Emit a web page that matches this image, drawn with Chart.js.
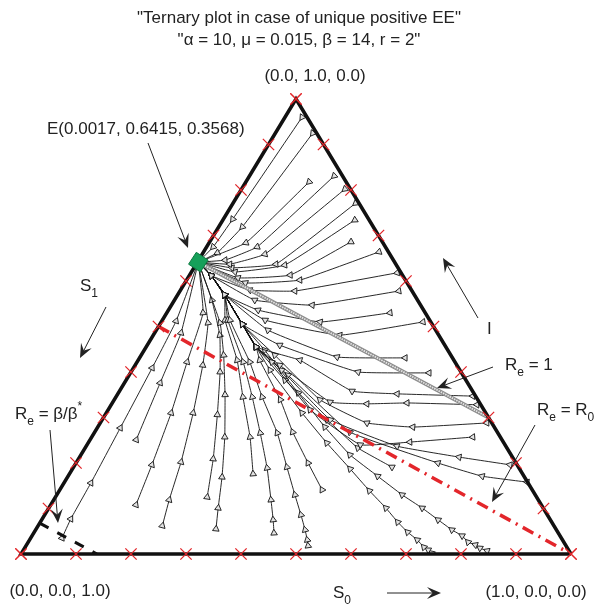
<!DOCTYPE html>
<html lang="en">
<head>
<meta charset="UTF-8">
<title>Ternary plot</title>
<script src="https://cdn.jsdelivr.net/npm/chart.js@4.4.1/dist/chart.umd.min.js"></script>
<style>
  body { margin: 0; background: #fff; }
  #wrap { width: 601px; height: 605px; }
</style>
</head>
<body>
<div id="wrap"><canvas id="ternary" width="601" height="605"></canvas></div>
<script>
// endemic equilibrium E = (S0, I, S1)
var eqPoint = [0.0017, 0.6415, 0.3568];

// red tick marks on each side
var edgeTicks = [0, 0.1, 0.2, 0.3, 0.4, 0.5, 0.6, 0.7, 0.8, 0.9, 1.0];

// threshold lines, [S0, I] end points
var reR0Line = [[0, 0.5], [1, 0]];
var reOneLine = [[0.0017, 0.6415], [0.7, 0.3]];
var reBetaLine = [[0, 0.068], [0.138, 0]];

// slow track the lower curves join before reaching E
var bandTrack = [[0.200, 0.455], [0.150, 0.505], [0.085, 0.570], [0.040, 0.612]];

// solution curves, [S0, I] samples (each one runs into E)
var orbitsTop = [
  [[0.031, 0.960], [0.017, 0.736], [0.012, 0.675]],
  [[0.068, 0.925], [0.043, 0.719], [0.026, 0.662]],
  [[0.115, 0.818], [0.067, 0.684]],
  [[0.154, 0.831], [0.092, 0.675], [0.048, 0.646]],
  [[0.188, 0.802], [0.114, 0.659], [0.061, 0.637]],
  [[0.223, 0.771], [0.145, 0.637], [0.069, 0.629]],
  [[0.240, 0.734], [0.162, 0.635], [0.079, 0.620]],
  [[0.257, 0.686], [0.183, 0.613], [0.091, 0.607]],
  [[0.319, 0.664], [0.206, 0.602], [0.110, 0.596]]
];
var orbitsSide = [
  [[0.375, 0.618], [0.209, 0.578], [0.126, 0.580]],
  [[0.398, 0.578], [0.256, 0.547], [0.146, 0.558]],
  [[0.406, 0.530], [0.289, 0.510], [0.163, 0.536]],
  [[0.476, 0.510], [0.339, 0.481], [0.187, 0.514]],
  [[0.483, 0.431], [0.358, 0.433], [0.203, 0.492]],
  [[0.543, 0.398], [0.413, 0.400], [0.241, 0.459]],
  [[0.648, 0.347], [0.508, 0.352], [0.423, 0.358], [0.294, 0.426]],
  [[0.665, 0.328], [0.536, 0.332], [0.464, 0.330], [0.395, 0.334], [0.263, 0.415]],
  [[0.703, 0.288], [0.573, 0.279], [0.485, 0.288], [0.374, 0.339], [0.243, 0.437]],
  [[0.693, 0.257], [0.584, 0.246], [0.497, 0.240], [0.367, 0.317], [0.245, 0.422]],
  [[0.791, 0.196], [0.690, 0.213], [0.565, 0.237], [0.415, 0.295], [0.272, 0.404]],
  [[0.841, 0.158], [0.753, 0.171], [0.658, 0.200], [0.464, 0.268], [0.289, 0.393]],
  [[0.579, 0.191], [0.496, 0.233], [0.409, 0.295], [0.289, 0.382]]
];
var orbitsBottom = [
  [[0.844, 0.007], [0.828, 0.013], [0.816, 0.020], [0.800, 0.026], [0.782, 0.040], [0.757, 0.053],
   [0.721, 0.075], [0.679, 0.101], [0.628, 0.130], [0.563, 0.171], [0.489, 0.218], [0.413, 0.279],
   [0.327, 0.354], [0.219, 0.448]],
  [[0.746, 0.002], [0.736, 0.009], [0.725, 0.015], [0.705, 0.031], [0.679, 0.048], [0.650, 0.070],
   [0.613, 0.101], [0.564, 0.139], [0.505, 0.187], [0.434, 0.244], [0.356, 0.310], [0.251, 0.404]],
  [[0.477, 0.141], [0.422, 0.200], [0.360, 0.268], [0.302, 0.339], [0.221, 0.426]],
  [[0.513, 0.018], [0.505, 0.031], [0.490, 0.053], [0.466, 0.086], [0.433, 0.130], [0.388, 0.191],
   [0.333, 0.266], [0.266, 0.345], [0.205, 0.422], [0.123, 0.514]],
  [[0.437, 0.046], [0.421, 0.075], [0.395, 0.119], [0.353, 0.189], [0.302, 0.266], [0.248, 0.345],
   [0.193, 0.422], [0.119, 0.514]],
  [[0.334, 0.176], [0.288, 0.257], [0.231, 0.345], [0.180, 0.426], [0.114, 0.514]]
];
var orbitsLeft = [
  [[0.327, 0.055], [0.308, 0.101], [0.281, 0.169], [0.242, 0.257], [0.196, 0.350], [0.150, 0.437], [0.108, 0.508]],
  [[0.276, 0.125], [0.245, 0.209], [0.204, 0.306], [0.162, 0.400], [0.121, 0.481], [0.068, 0.558]],
  [[0.226, 0.062], [0.210, 0.119], [0.190, 0.202], [0.158, 0.310], [0.123, 0.415], [0.086, 0.508]],
  [[0.155, 0.108], [0.140, 0.196], [0.118, 0.310], [0.091, 0.422], [0.066, 0.530]],
  [[0.084, 0.251], [0.065, 0.376], [0.048, 0.486]],
  [[0.057, 0.035], [0.052, 0.077], [0.049, 0.156], [0.042, 0.277], [0.034, 0.409], [0.026, 0.512]]
];

// (S0, I) -> plane, bottom side is S0, height is I
function toPlane(s0, i) {
  return { x: s0 + i / 2, y: i };
}
function planeList(list) {
  return list.map(function (p) { return toPlane(p[0], p[1]); });
}

var datasets = [];

// tick crosses on the three sides
var crossPts = [];
edgeTicks.forEach(function (t) {
  crossPts.push(toPlane(t, 0));
  crossPts.push(toPlane(0, t));
  crossPts.push(toPlane(1 - t, t));
});
datasets.push({
  data: crossPts, order: 0, clip: false, showLine: false,
  pointStyle: 'crossRot', pointRadius: 8, borderColor: '#e3262b', borderWidth: 1.3
});

// equilibrium marker
datasets.push({
  data: [toPlane(eqPoint[0], eqPoint[1])], order: 1, clip: false,
  pointStyle: 'rectRot', pointRadius: 10, pointRotation: -12,
  backgroundColor: '#16a05a', borderColor: '#0c7a40', borderWidth: 1
});
datasets.push({
  data: [toPlane(eqPoint[0], eqPoint[1])], order: 1, clip: false,
  pointStyle: 'rectRot', pointRadius: 4, pointRotation: -12,
  backgroundColor: '#111', borderColor: '#111', borderWidth: 1
});

// triangle outline
datasets.push({
  data: planeList([[1, 0], [0, 1], [0, 0], [1, 0]]), order: 2, clip: false,
  showLine: true, borderColor: '#111', borderWidth: 3.5, pointRadius: 0
});

// threshold lines
datasets.push({
  data: planeList(reR0Line), order: 3, showLine: true, pointRadius: 0,
  borderColor: '#e3262b', borderWidth: 3.5, borderDash: [12, 6, 2, 6]
});
datasets.push({
  data: planeList(reOneLine), order: 4, showLine: true, pointRadius: 0,
  borderColor: '#e6e6e6', borderWidth: 1.8, borderDash: [1.5, 1]
});
datasets.push({
  data: planeList(reOneLine), order: 4.5, showLine: true, pointRadius: 0,
  borderColor: '#8c8c8c', borderWidth: 4.2
});
datasets.push({
  data: planeList(reBetaLine), order: 3, showLine: true, pointRadius: 0,
  borderColor: '#111', borderWidth: 3, borderDash: [10, 10]
});

// marker triangle points along the direction of travel
function travelAngle(ctx) {
  var d = ctx.dataset.data, i = ctx.dataIndex;
  var a = d[i], b = d[i + 1];
  if (!b) { a = d[i - 1]; b = d[i]; }
  var sx = ctx.chart.scales.x, sy = ctx.chart.scales.y;
  var dx = sx.getPixelForValue(b.x) - sx.getPixelForValue(a.x);
  var dy = sy.getPixelForValue(b.y) - sy.getPixelForValue(a.y);
  return Math.atan2(dx, -dy) * 180 / Math.PI;
}

function addOrbit(orbit, viaBand) {
  var path = orbit.slice();
  if (viaBand) {
    var lastI = path[path.length - 1][1];
    bandTrack.forEach(function (p) {
      if (p[1] > lastI + 0.02) path.push(p);
    });
  }
  path.push([eqPoint[0], eqPoint[1]]);
  datasets.push({
    data: planeList(path), order: 6, showLine: true, tension: 0.1,
    borderColor: '#111', borderWidth: 0.9,
    pointStyle: 'triangle',
    pointRadius: function (ctx) {
      return ctx.dataIndex === ctx.dataset.data.length - 1 ? 0 : 3.8;
    },
    pointRotation: travelAngle,
    pointBackgroundColor: '#e2e2e2', pointBorderColor: '#111', pointBorderWidth: 0.9
  });
}

orbitsTop.forEach(function (o) { addOrbit(o, false); });
orbitsSide.forEach(function (o) { addOrbit(o, true); });
orbitsBottom.forEach(function (o) { addOrbit(o, true); });
orbitsLeft.forEach(function (o) { addOrbit(o, false); });

var mainFont = '17px "Liberation Sans", Arial, sans-serif';
var smallFont = '12px "Liberation Sans", Arial, sans-serif';

function richText(c, x, y, parts, align) {
  var w = 0;
  parts.forEach(function (p) {
    c.font = p[1] ? smallFont : mainFont;
    w += c.measureText(p[0]).width;
  });
  var cx = align === 'center' ? x - w / 2 : x;
  parts.forEach(function (p) {
    c.font = p[1] ? smallFont : mainFont;
    var dy = p[1] === 'sub' ? 6 : (p[1] === 'sup' ? -9 : 0);
    c.fillText(p[0], cx, y + dy);
    cx += c.measureText(p[0]).width;
  });
}

function arrow(c, x1, y1, x2, y2) {
  var a = Math.atan2(y2 - y1, x2 - x1), L = 14, W = 6;
  var ca = Math.cos(a), sa = Math.sin(a);
  c.beginPath();
  c.moveTo(x1, y1);
  c.lineTo(x2 - ca * 8, y2 - sa * 8);
  c.lineWidth = 1;
  c.stroke();
  c.beginPath();
  c.moveTo(x2, y2);
  c.lineTo(x2 - L * ca + W * sa, y2 - L * sa - W * ca);
  c.lineTo(x2 - 0.6 * L * ca, y2 - 0.6 * L * sa);
  c.lineTo(x2 - L * ca - W * sa, y2 - L * sa + W * ca);
  c.closePath();
  c.fill();
}

// titles, corner labels and the annotation arrows
var labelsPlugin = {
  id: 'ternaryLabels',
  afterDraw: function (chart) {
    var c = chart.ctx;
    c.save();
    c.fillStyle = '#222';
    c.strokeStyle = '#222';
    c.textBaseline = 'alphabetic';
    richText(c, 299, 23, [['"Ternary plot in case of unique positive EE"']], 'center');
    richText(c, 299, 45, [['"\u03b1 = 10, \u03bc = 0.015, \u03b2 = 14, r = 2"']], 'center');
    richText(c, 315, 81, [['(0.0, 1.0, 0.0)']], 'center');
    richText(c, 60, 596, [['(0.0, 0.0, 1.0)']], 'center');
    richText(c, 536, 597, [['(1.0, 0.0, 0.0)']], 'center');
    richText(c, 47, 134, [['E(0.0017, 0.6415, 0.3568)']]);
    richText(c, 80, 291, [['S'], ['1', 'sub']]);
    richText(c, 487, 334, [['I']]);
    richText(c, 505, 370, [['R'], ['e', 'sub'], [' = 1']]);
    richText(c, 537, 415, [['R'], ['e', 'sub'], [' = R'], ['0', 'sub']]);
    richText(c, 15, 419, [['R'], ['e', 'sub'], [' = \u03b2/\u03b2'], ['*', 'sup']]);
    richText(c, 333, 598, [['S'], ['0', 'sub']]);

    arrow(c, 148, 143, 188, 248);
    arrow(c, 106, 307, 80, 358);
    arrow(c, 478, 318, 443, 258);
    arrow(c, 493, 367, 437, 388);
    arrow(c, 535, 425, 492, 502);
    arrow(c, 50, 430, 58, 523);
    arrow(c, 387, 593, 441, 593);
    c.restore();
  }
};

new Chart(document.getElementById('ternary'), {
  type: 'scatter',
  data: { datasets: datasets },
  options: {
    responsive: false,
    animation: false,
    events: [],
    layout: { padding: { left: 21, right: 30, top: 99, bottom: 51 } },
    scales: {
      x: { type: 'linear', min: 0, max: 1, display: false },
      y: { type: 'linear', min: 0, max: 1, display: false }
    },
    plugins: {
      legend: { display: false },
      tooltip: { enabled: false }
    }
  },
  plugins: [labelsPlugin]
});
</script>
</body>
</html>
